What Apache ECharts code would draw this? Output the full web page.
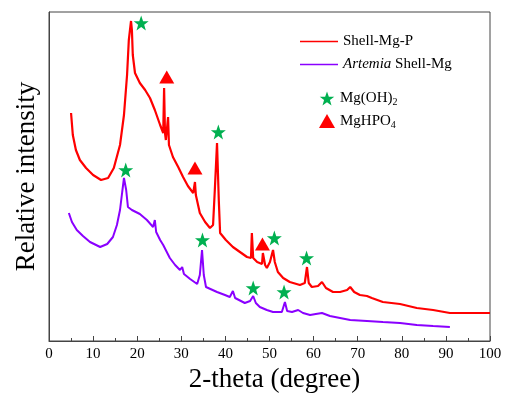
<!DOCTYPE html>
<html><head><meta charset="utf-8">
<script src="https://cdn.jsdelivr.net/npm/echarts@6/dist/echarts.min.js"></script>
<style>html,body{margin:0;padding:0;background:#fff}#c{width:506px;height:397px}</style>
</head><body><div id="c"></div>
<script>
var xTicks = [0,10,20,30,40,50,60,70,80,90,100];
var shellMgP = [[5.0,228],[5.4,206],[6.1,191],[7.0,181],[8.4,173],[10.0,166],[11.8,161],[13.4,163],[14.7,173],[16.1,196],[17.0,226],[17.7,266],[18.1,301],[18.6,320],[18.8,311],[19.0,286],[19.5,268],[20.6,258],[21.8,251],[22.9,243],[24.0,231],[25.2,216],[25.9,208],[26.1,253],[26.3,208],[26.5,201],[27.0,224],[27.2,196],[28.1,184],[29.3,174],[30.4,164],[31.5,155],[32.7,148],[33.1,159],[33.3,146],[34.2,128],[35.4,119],[36.5,113],[37.2,116],[37.6,151],[38.1,198],[38.5,141],[38.8,108],[40.1,101],[41.7,94],[43.3,89],[44.9,84],[45.8,83],[46.0,108],[46.3,83],[47.2,79],[48.3,77],[48.5,88],[49.0,76],[49.4,73],[50.1,79],[50.8,91],[51.2,79],[51.9,69],[53.1,63],[54.6,59],[56.9,56],[58.0,58],[58.5,74],[58.9,58],[59.6,54],[61.0,55],[61.9,59],[62.8,53],[64.4,49],[66.0,49],[67.6,51],[68.3,54],[69.2,49],[70.5,46],[72.1,45],[73.2,43],[75.7,39],[79.6,37],[83.4,33],[87.1,31],[90.9,28],[95.5,28],[100,28]];
var artemiaShellMg = [[4.5,128],[5.2,119],[6.3,111],[7.7,105],[9.3,99],[11.6,94],[13.2,97],[14.5,104],[15.4,116],[16.1,131],[16.6,149],[17.0,163],[17.5,151],[17.9,134],[18.8,131],[20.6,127],[22.2,121],[23.6,114],[24.0,121],[24.3,109],[25.2,101],[25.9,96],[27.4,83],[28.6,76],[29.7,71],[30.2,74],[30.6,67],[32.0,62],[33.6,57],[34.2,66],[34.7,91],[35.1,66],[35.6,54],[38.1,49],[39.9,46],[41.0,44],[41.7,50],[42.2,43],[44.4,38],[45.6,40],[46.3,45],[46.9,38],[47.8,34],[49.4,31],[50.8,29],[52.8,29],[53.5,39],[54.0,30],[55.1,29],[56.5,31],[57.6,28],[59.2,26],[60.5,27],[61.9,28],[63.7,25],[68.3,21],[72.1,20],[75.7,19],[79.6,18],[83.4,16],[87.1,15],[90.9,14]];
var mgOH2Marks = [[20.9,318],[38.4,209],[17.4,171],[34.8,101],[51.1,103],[58.4,83],[46.3,53],[53.3,49]];
var mgHPO4Marks = [[26.7,264],[33.1,173],[48.4,97]];

var FONT = 'Liberation Serif';
var STAR = 'path://M12,0 L14.9,8.3 L23.4,8.3 L16.6,13.5 L19.1,22 L12,16.8 L4.9,22 L7.4,13.5 L0.6,8.3 L9.1,8.3 Z';
var chart = echarts.init(document.getElementById('c'));
chart.setOption({
  animation: false,
  backgroundColor: '#fff',
  grid: {left: 49, right: 16, top: 12, bottom: 56, show: true, borderColor: '#444', borderWidth: 1, containLabel: false, outerBoundsMode: 'none'},
  legend: [{
    data: [{name: 'Shell-Mg-P', icon: 'rect'}, {name: 'Artemia Shell-Mg', icon: 'rect'}],
    orient: 'vertical', left: 295, top: 28, itemWidth: 38, itemHeight: 1.3, itemGap: 6, itemTextGap: 5,
    textStyle: {fontFamily: FONT, fontSize: 15, color: '#000', lineHeight: 17, rich: {i: {fontStyle: 'italic', fontFamily: FONT, fontSize: 15, color: '#000', lineHeight: 17}}},
    formatter: function (n) { return n === 'Artemia Shell-Mg' ? '{i|Artemia} Shell-Mg' : n; }
  }, {
    data: ['Mg(OH)2', 'MgHPO4'],
    orient: 'vertical', left: 314, top: 86, itemWidth: 16, itemHeight: 14, itemGap: 6, itemTextGap: 10,
    textStyle: {fontFamily: FONT, fontSize: 15, color: '#000', rich: {s: {fontFamily: FONT, fontSize: 10, color: '#000', verticalAlign: 'bottom', padding: [8, 0, 0, 0]}, n: {fontFamily: FONT, fontSize: 15, color: '#000'}}},
    formatter: function (n) { return n === 'Mg(OH)2' ? '{n|Mg(OH)}{s|2}' : '{n|MgHPO}{s|4}'; }
  }],
  xAxis: {
    type: 'value', min: 0, max: 100, interval: 10,
    name: '2-theta (degree)', nameLocation: 'middle', nameGap: 25,
    nameTextStyle: {fontFamily: FONT, fontSize: 27, color: '#000', padding: [0, 0, 0, 10]},
    axisLine: {show: true, lineStyle: {color: '#444', width: 1}},
    axisTick: {show: true, inside: true, length: 5, lineStyle: {color: '#444'}},
    minorTick: {show: true, splitNumber: 2, length: 3, lineStyle: {color: '#444'}},
    axisLabel: {fontFamily: FONT, fontSize: 15, color: '#000', margin: 6,
      formatter: function (v) { return xTicks.indexOf(v) >= 0 ? String(v) : ''; }},
    splitLine: {show: false}
  },
  yAxis: {
    type: 'value', min: 0, max: 329,
    name: 'Relative intensity', nameLocation: 'middle', nameGap: 3,
    nameTextStyle: {fontFamily: FONT, fontSize: 27, color: '#000', padding: [0, 0, 6, 0]},
    axisLine: {show: true, lineStyle: {color: '#444', width: 1}},
    axisTick: {show: false}, axisLabel: {show: false}, splitLine: {show: false}
  },
  series: [
    {name: 'Shell-Mg-P', type: 'line', data: shellMgP, symbol: 'none', lineStyle: {color: '#ff0000', width: 2.2}, itemStyle: {color: '#ff0000'}, z: 3},
    {name: 'Artemia Shell-Mg', type: 'line', data: artemiaShellMg, symbol: 'none', lineStyle: {color: '#8a00ff', width: 2}, itemStyle: {color: '#8a00ff'}, z: 3},
    {name: 'Mg(OH)2', type: 'scatter', data: mgOH2Marks, symbol: STAR, symbolSize: 15, itemStyle: {color: '#00b050', opacity: 1}, z: 4},
    {name: 'MgHPO4', type: 'scatter', data: mgHPO4Marks, symbol: 'triangle', symbolSize: [15, 13], itemStyle: {color: '#ff0000', opacity: 1}, z: 4}
  ]
});
</script></body></html>
